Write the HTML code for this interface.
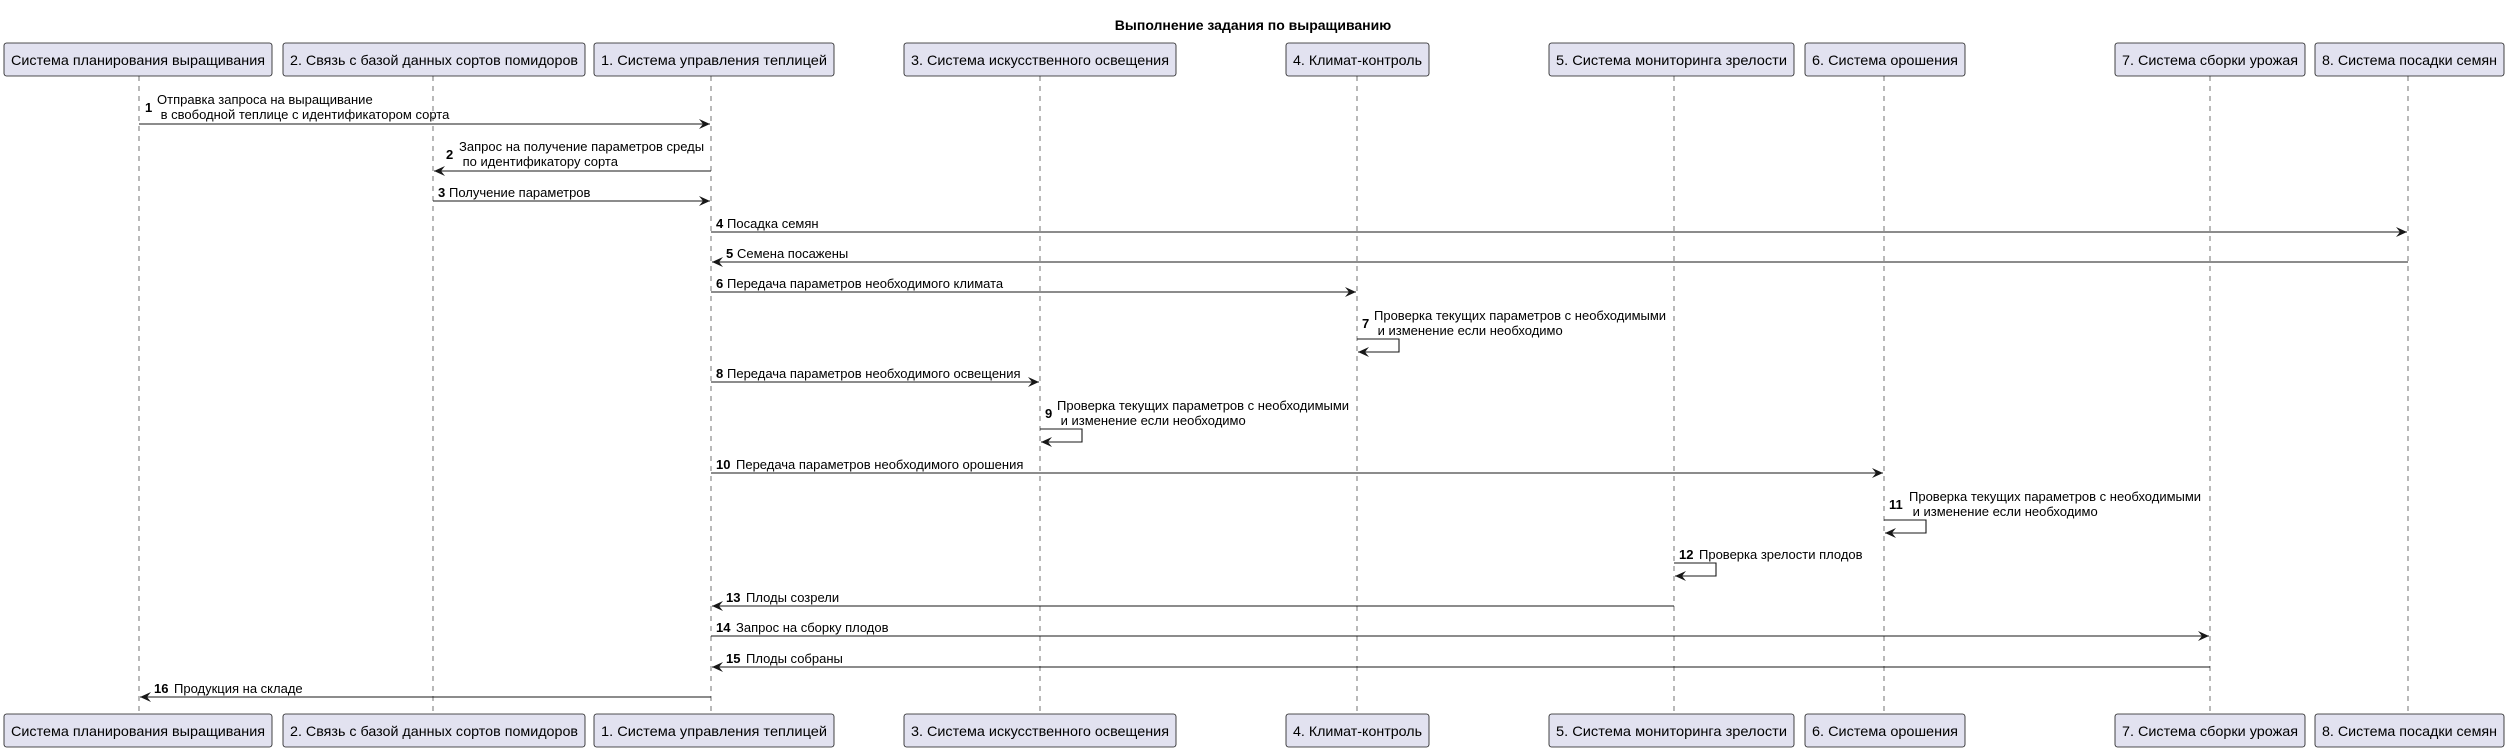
<!DOCTYPE html>
<html><head><meta charset="utf-8"><style>
html,body{margin:0;padding:0;background:#fff;}
svg{display:block;font-family:"Liberation Sans","DejaVu Sans",sans-serif;}
.p{font-size:14px;fill:#000;}
.m{font-size:13px;fill:#000;}
.n{font-size:13px;font-weight:bold;fill:#000;}
.box{fill:#E2E2F0;stroke:#181818;stroke-width:0.8;}
.ll{stroke:#181818;stroke-width:0.6;stroke-dasharray:5,5;}
.ar{stroke:#181818;stroke-width:1.1;fill:none;}
</style></head><body>
<svg width="2507" height="751" viewBox="0 0 2507 751" xmlns="http://www.w3.org/2000/svg">
<defs>
<marker id="a" markerWidth="12" markerHeight="10" refX="11" refY="5" orient="auto" markerUnits="userSpaceOnUse">
<path d="M0,0 L11,5 L0,10 L4,5 Z" fill="#181818"/></marker>
</defs>
<text x="1253" y="30" text-anchor="middle" font-size="14" font-weight="bold">Выполнение задания по выращиванию</text>

<g class="ll">
<line x1="139" y1="76" x2="139" y2="714"/>
<line x1="433" y1="76" x2="433" y2="714"/>
<line x1="711" y1="76" x2="711" y2="714"/>
<line x1="1040" y1="76" x2="1040" y2="714"/>
<line x1="1357" y1="76" x2="1357" y2="714"/>
<line x1="1674" y1="76" x2="1674" y2="714"/>
<line x1="1884" y1="76" x2="1884" y2="714"/>
<line x1="2210" y1="76" x2="2210" y2="714"/>
<line x1="2408" y1="76" x2="2408" y2="714"/>
</g>

<g>
<rect class="box" x="4" y="43" width="268" height="33" rx="2.5"/>
<rect class="box" x="283" y="43" width="302" height="33" rx="2.5"/>
<rect class="box" x="594" y="43" width="240" height="33" rx="2.5"/>
<rect class="box" x="904" y="43" width="272" height="33" rx="2.5"/>
<rect class="box" x="1286" y="43" width="143" height="33" rx="2.5"/>
<rect class="box" x="1549" y="43" width="245" height="33" rx="2.5"/>
<rect class="box" x="1805" y="43" width="160" height="33" rx="2.5"/>
<rect class="box" x="2115" y="43" width="190" height="33" rx="2.5"/>
<rect class="box" x="2315" y="43" width="189" height="33" rx="2.5"/>

<rect class="box" x="4" y="714" width="268" height="33" rx="2.5"/>
<rect class="box" x="283" y="714" width="302" height="33" rx="2.5"/>
<rect class="box" x="594" y="714" width="240" height="33" rx="2.5"/>
<rect class="box" x="904" y="714" width="272" height="33" rx="2.5"/>
<rect class="box" x="1286" y="714" width="143" height="33" rx="2.5"/>
<rect class="box" x="1549" y="714" width="245" height="33" rx="2.5"/>
<rect class="box" x="1805" y="714" width="160" height="33" rx="2.5"/>
<rect class="box" x="2115" y="714" width="190" height="33" rx="2.5"/>
<rect class="box" x="2315" y="714" width="189" height="33" rx="2.5"/>
</g>
<g class="p">
<text x="11" y="65" textLength="254" lengthAdjust="spacingAndGlyphs">Система планирования выращивания</text>
<text x="290" y="65" textLength="288" lengthAdjust="spacingAndGlyphs">2. Связь с базой данных сортов помидоров</text>
<text x="601" y="65" textLength="226" lengthAdjust="spacingAndGlyphs">1. Система управления теплицей</text>
<text x="911" y="65" textLength="258" lengthAdjust="spacingAndGlyphs">3. Система искусственного освещения</text>
<text x="1293" y="65" textLength="129" lengthAdjust="spacingAndGlyphs">4. Климат-контроль</text>
<text x="1556" y="65" textLength="231" lengthAdjust="spacingAndGlyphs">5. Система мониторинга зрелости</text>
<text x="1812" y="65" textLength="146" lengthAdjust="spacingAndGlyphs">6. Система орошения</text>
<text x="2122" y="65" textLength="176" lengthAdjust="spacingAndGlyphs">7. Система сборки урожая</text>
<text x="2322" y="65" textLength="175" lengthAdjust="spacingAndGlyphs">8. Система посадки семян</text>

<text x="11" y="736" textLength="254" lengthAdjust="spacingAndGlyphs">Система планирования выращивания</text>
<text x="290" y="736" textLength="288" lengthAdjust="spacingAndGlyphs">2. Связь с базой данных сортов помидоров</text>
<text x="601" y="736" textLength="226" lengthAdjust="spacingAndGlyphs">1. Система управления теплицей</text>
<text x="911" y="736" textLength="258" lengthAdjust="spacingAndGlyphs">3. Система искусственного освещения</text>
<text x="1293" y="736" textLength="129" lengthAdjust="spacingAndGlyphs">4. Климат-контроль</text>
<text x="1556" y="736" textLength="231" lengthAdjust="spacingAndGlyphs">5. Система мониторинга зрелости</text>
<text x="1812" y="736" textLength="146" lengthAdjust="spacingAndGlyphs">6. Система орошения</text>
<text x="2122" y="736" textLength="176" lengthAdjust="spacingAndGlyphs">7. Система сборки урожая</text>
<text x="2322" y="736" textLength="175" lengthAdjust="spacingAndGlyphs">8. Система посадки семян</text>
</g>

<g class="ar">
<line x1="139" y1="124" x2="710" y2="124" marker-end="url(#a)"/>
<line x1="711" y1="171" x2="434" y2="171" marker-end="url(#a)"/>
<line x1="433" y1="201" x2="710" y2="201" marker-end="url(#a)"/>
<line x1="711" y1="232" x2="2407" y2="232" marker-end="url(#a)"/>
<line x1="2408" y1="262" x2="712" y2="262" marker-end="url(#a)"/>
<line x1="711" y1="292" x2="1356" y2="292" marker-end="url(#a)"/>
<polyline points="1357,339 1399,339 1399,352 1358,352" marker-end="url(#a)"/>
<line x1="711" y1="382" x2="1039" y2="382" marker-end="url(#a)"/>
<polyline points="1040,429 1082,429 1082,442 1041,442" marker-end="url(#a)"/>
<line x1="711" y1="473" x2="1883" y2="473" marker-end="url(#a)"/>
<polyline points="1884,520 1926,520 1926,533 1885,533" marker-end="url(#a)"/>
<polyline points="1674,563 1716,563 1716,576 1675,576" marker-end="url(#a)"/>
<line x1="1674" y1="606" x2="712" y2="606" marker-end="url(#a)"/>
<line x1="711" y1="636" x2="2209" y2="636" marker-end="url(#a)"/>
<line x1="2210" y1="667" x2="712" y2="667" marker-end="url(#a)"/>
<line x1="711" y1="697" x2="140" y2="697" marker-end="url(#a)"/>
</g>

<g>
<text class="n" x="145" y="112">1</text>
<text class="m" x="157" y="104">Отправка запроса на выращивание</text>
<text class="m" x="157" y="119">&#160;в свободной теплице с идентификатором сорта</text>

<text class="n" x="446" y="159">2</text>
<text class="m" x="459" y="151">Запрос на получение параметров среды</text>
<text class="m" x="459" y="166">&#160;по идентификатору сорта</text>

<text class="n" x="438" y="197">3</text><text class="m" x="449" y="197">Получение параметров</text>
<text class="n" x="716" y="228">4</text><text class="m" x="727" y="228">Посадка семян</text>
<text class="n" x="726" y="258">5</text><text class="m" x="737" y="258">Семена посажены</text>
<text class="n" x="716" y="288">6</text><text class="m" x="727" y="288">Передача параметров необходимого климата</text>

<text class="n" x="1362" y="328">7</text>
<text class="m" x="1374" y="320">Проверка текущих параметров с необходимыми</text>
<text class="m" x="1374" y="335">&#160;и изменение если необходимо</text>

<text class="n" x="716" y="378">8</text><text class="m" x="727" y="378">Передача параметров необходимого освещения</text>

<text class="n" x="1045" y="418">9</text>
<text class="m" x="1057" y="410">Проверка текущих параметров с необходимыми</text>
<text class="m" x="1057" y="425">&#160;и изменение если необходимо</text>

<text class="n" x="716" y="469">10</text><text class="m" x="736" y="469">Передача параметров необходимого орошения</text>

<text class="n" x="1889" y="509">11</text>
<text class="m" x="1909" y="501">Проверка текущих параметров с необходимыми</text>
<text class="m" x="1909" y="516">&#160;и изменение если необходимо</text>

<text class="n" x="1679" y="559">12</text><text class="m" x="1699" y="559">Проверка зрелости плодов</text>
<text class="n" x="726" y="602">13</text><text class="m" x="746" y="602">Плоды созрели</text>
<text class="n" x="716" y="632">14</text><text class="m" x="736" y="632">Запрос на сборку плодов</text>
<text class="n" x="726" y="663">15</text><text class="m" x="746" y="663">Плоды собраны</text>
<text class="n" x="154" y="693">16</text><text class="m" x="174" y="693">Продукция на складе</text>
</g>
</svg>
</body></html>
